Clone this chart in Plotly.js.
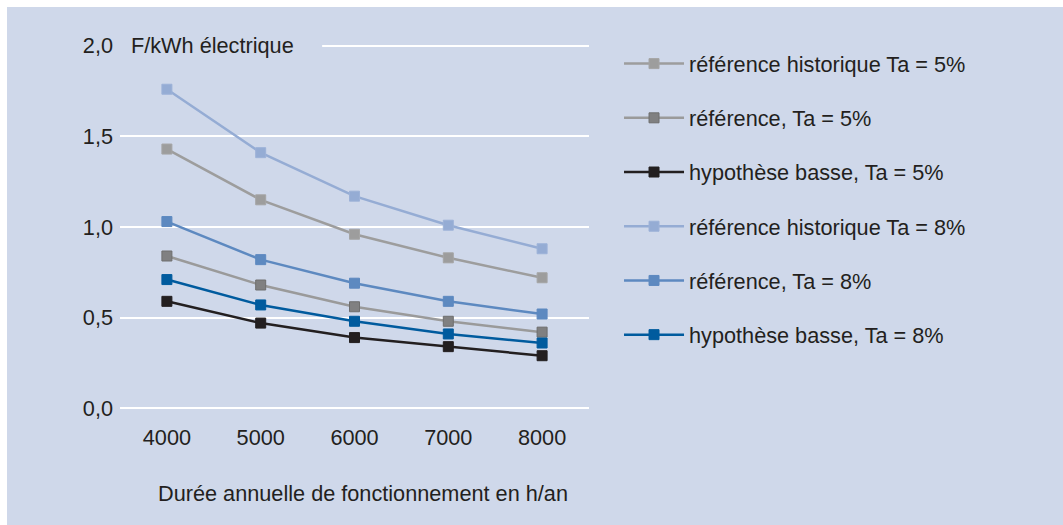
<!DOCTYPE html>
<html>
<head>
<meta charset="utf-8">
<script src="https://cdn.plot.ly/plotly-3.0.1.min.js"></script>
<style>
html,body{margin:0;padding:0;background:#ffffff;width:1063px;height:525px;overflow:hidden;}
#chart{position:absolute;left:7px;top:7px;width:1056px;height:518px;}
</style>
</head>
<body>
<div id="chart"></div>
<script>
const categories = ['4000', '5000', '6000', '7000', '8000'];
const refHist5 = [1.43, 1.15, 0.96, 0.83, 0.72];
const ref5 = [0.84, 0.68, 0.56, 0.48, 0.42];
const basse5 = [0.59, 0.47, 0.39, 0.34, 0.29];
const refHist8 = [1.76, 1.41, 1.17, 1.01, 0.88];
const ref8 = [1.03, 0.82, 0.69, 0.59, 0.52];
const basse8 = [0.71, 0.57, 0.48, 0.41, 0.36];
const seriesNames = [
  'référence historique Ta = 5%',
  'référence, Ta = 5%',
  'hypothèse basse, Ta = 5%',
  'référence historique Ta = 8%',
  'référence, Ta = 8%',
  'hypothèse basse, Ta = 8%'
];
const yTicks = [0, 0.5, 1.0, 1.5, 2.0];

const seriesValues = [refHist5, ref5, basse5, refHist8, ref8, basse8];
const lineColors = ['#9d9d9d', '#9a9a9a', '#231f20', '#95acd4', '#5d89c0', '#005b9e'];
const markerColors = ['#9d9d9d', '#808081', '#231f20', '#95acd4', '#5d89c0', '#005b9e'];
const markerLines = ['#a5a5a5', '#6e6e6e', '#231f20', '#9db2d8', '#5d89c0', '#005b9e'];

const panel = '#cfd8ea';
const textColor = '#231f20';
const font = 'Liberation Sans, Arial, sans-serif';
const fs = 21.7;

const traces = seriesValues.map((vals, i) => ({
  type: 'scatter',
  mode: 'lines+markers',
  x: categories,
  y: vals,
  name: seriesNames[i],
  legendgroup: 'g' + i,
  line: {color: lineColors[i], width: 2.5},
  marker: {symbol: 'square', size: 10, color: markerColors[i], line: {color: markerLines[i], width: 1}},
  cliponaxis: false
}));

const layout = {
  width: 1056,
  height: 518,
  paper_bgcolor: panel,
  plot_bgcolor: panel,
  separators: ', ',
  font: {family: font, size: fs, color: textColor},
  margin: {l: 113, r: 474, t: 36, b: 114, pad: 0},
  showlegend: true,
  legend: {
    x: 1.064, xanchor: 'left',
    y: 1.0, yanchor: 'top',
    bgcolor: 'rgba(0,0,0,0)',
    font: {family: font, size: fs, color: textColor},
    traceorder: 'grouped',
    tracegroupgap: 23,
    itemwidth: 60
  },
  xaxis: {
    type: 'category',
    range: [-0.5, 4.5],
    showgrid: false,
    zeroline: false,
    showline: false,
    ticks: '',
    ticklabelstandoff: 11,
    tickfont: {family: font, size: fs, color: textColor}
  },
  yaxis: {
    range: [-0.015, 2.015],
    tickvals: yTicks,
    tickformat: '.1f',
    showgrid: true,
    gridcolor: '#ffffff',
    gridwidth: 2,
    zeroline: false,
    showline: false,
    ticks: '',
    ticklabelstandoff: 6,
    tickfont: {family: font, size: fs, color: textColor}
  },
  shapes: [{
    type: 'rect', xref: 'paper', yref: 'y',
    x0: 0, x1: 0.431, y0: 1.97, y1: 2.03,
    fillcolor: panel, line: {width: 0}, layer: 'above'
  }],
  annotations: [
    {
      text: 'F/kWh électrique', xref: 'paper', yref: 'y',
      x: 0.019, y: 2.0, xanchor: 'left', yanchor: 'middle',
      showarrow: false, font: {family: font, size: fs, color: textColor}
    },
    {
      text: 'Durée annuelle de fonctionnement en h/an', xref: 'paper', yref: 'paper',
      x: 0.518, y: -0.2255, xanchor: 'center', yanchor: 'middle',
      showarrow: false, font: {family: font, size: fs, color: textColor}
    }
  ]
};

Plotly.newPlot('chart', traces, layout, {displayModeBar: false, staticPlot: true});
</script>
</body>
</html>
